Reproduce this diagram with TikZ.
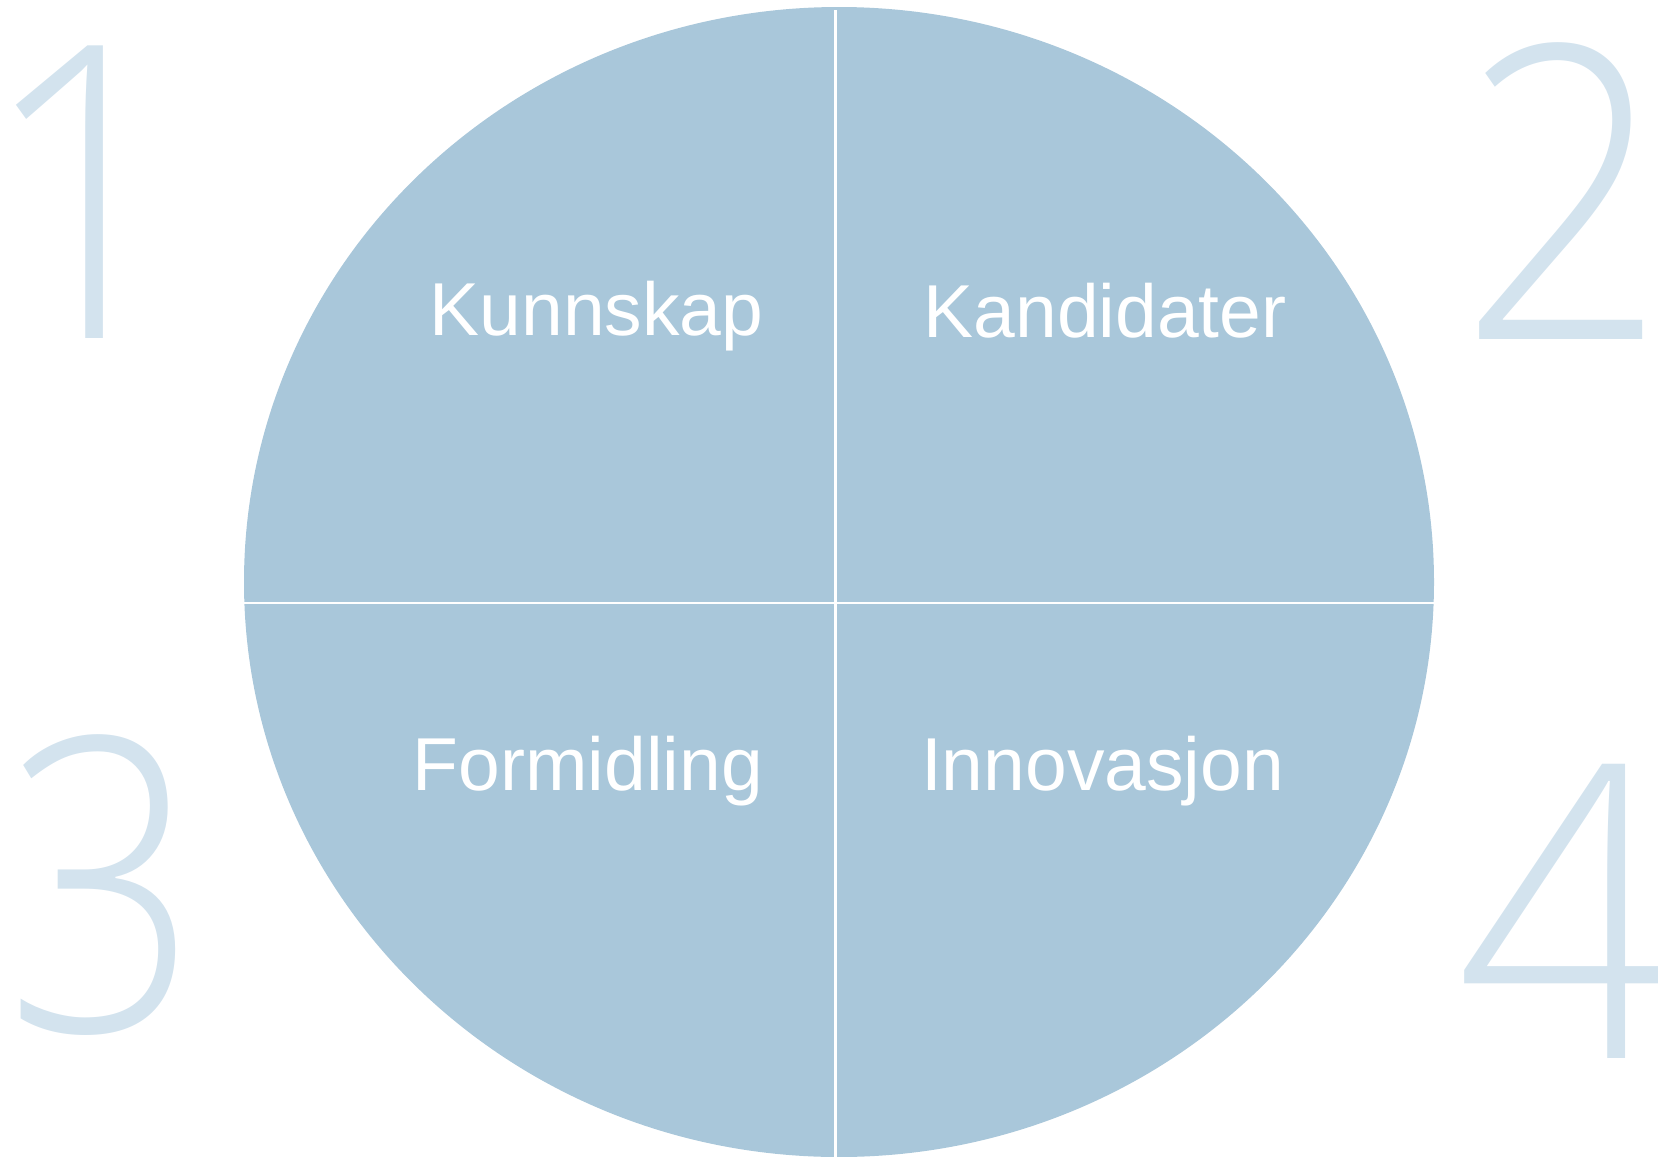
\documentclass[tikz,border=0pt]{standalone}
\usepackage{fontspec}
\setmainfont{Liberation Sans}
\IfFontExistsTF{Open Sans Light}{\newfontfamily\numfont{Open Sans Light}}{%
  \IfFontExistsTF{Fira Sans Light}{\newfontfamily\numfont{Fira Sans Light}}{\newfontfamily\numfont{Open Sans}}}
\definecolor{discblue}{HTML}{A9C7DA}
\definecolor{numblue}{HTML}{D3E3EE}
\tikzset{
  label/.style={inner sep=0pt, outer sep=0pt, anchor=base, text=white, font=\fontsize{75}{80}\selectfont},
  bignum/.style={inner sep=0pt, outer sep=0pt, anchor=base, text=numblue, text height=290pt, text depth=0pt, font=\numfont\fontsize{410}{420}\selectfont},
  divider/.style={draw=white, line width=2.5pt}
}
\begin{document}
\begin{tikzpicture}[x=1pt, y=-1pt]
\useasboundingbox (0,0) rectangle (1658,1157);
\clip (0,0) rectangle (1658,1157);
\fill[discblue] (839,582) ellipse [x radius=595, y radius=575];
\coordinate (vtop) at (835.5,10);
\coordinate (vbot) at (835.5,1157);
\coordinate (hleft) at (244,603);
\coordinate (hright) at (1434,603);
\draw[divider] (vtop) -- (vbot);
\draw[divider] (hleft) -- (hright);
\node[label] (kunn) at (596.5,335) {Kunnskap};
\node[label] (kand) at (1105,337) {Kandidater};
\node[label] (form) at (588,790) {Formidling};
\node[label] (inno) at (1102.5,790) {Innovasjon};
\node[bignum, xscale=0.9] (n1) at (86,338) {1};
\node[bignum, xscale=0.89] (n2) at (1564,339) {2};
\node[bignum, xscale=0.83] (n3) at (103,1031) {3};
\node[bignum, xscale=0.95] (n4) at (1568,1058) {4};
\end{tikzpicture}
\end{document}
